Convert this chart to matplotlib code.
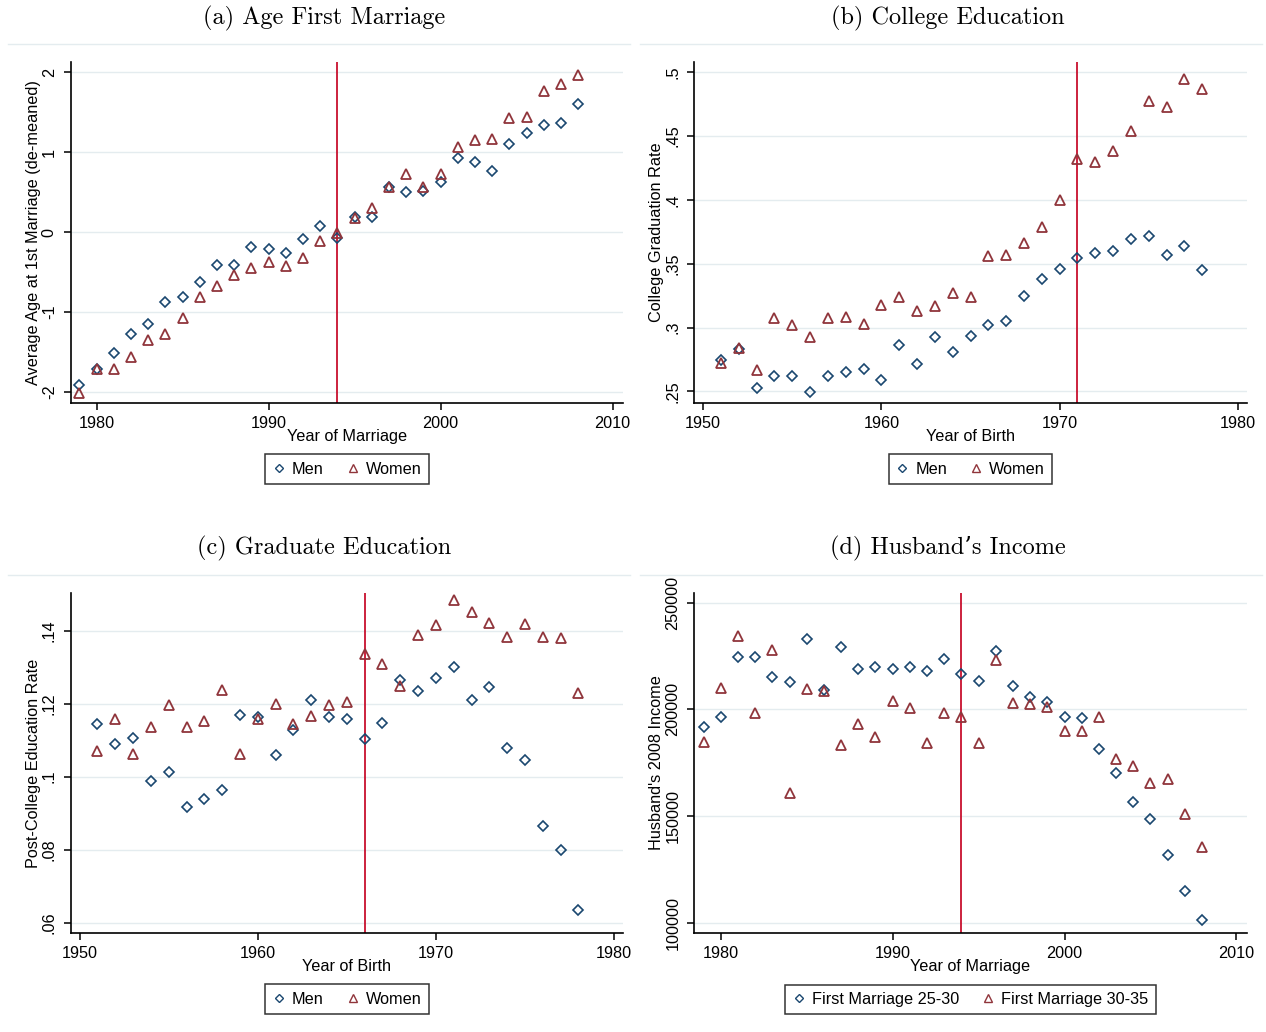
import matplotlib
matplotlib.use("Agg")
import matplotlib.pyplot as plt
from matplotlib.lines import Line2D

# ---- data -------------------------------------------------------------
marriage_years = list(range(1979, 2009))
birth_years = list(range(1951, 1979))

age_men = [-1.92, -1.72, -1.52, -1.27, -1.15, -0.88, -0.81, -0.63, -0.41, -0.41,
           -0.19, -0.21, -0.26, -0.09, 0.08, -0.08, 0.19, 0.19, 0.56, 0.50,
           0.52, 0.63, 0.93, 0.88, 0.76, 1.10, 1.24, 1.34, 1.37, 1.60]
age_women = [-2.01, -1.71, -1.72, -1.57, -1.35, -1.27, -1.07, -0.81, -0.67, -0.54,
             -0.45, -0.37, -0.43, -0.33, -0.11, -0.01, 0.18, 0.30, 0.56, 0.73,
             0.57, 0.73, 1.06, 1.15, 1.17, 1.43, 1.44, 1.77, 1.85, 1.97]

college_men = [.2748, .2832, .2529, .2623, .2623, .2495, .2623, .2654, .2675, .2592,
               .2863, .2717, .2926, .2811, .2936, .3020, .3051, .3249, .3384, .3458,
               .3541, .3583, .3603, .3697, .3718, .3572, .3635, .3447]
college_women = [.2722, .2840, .2664, .3074, .3020, .2923, .3071, .3082, .3030, .3176,
                 .3239, .3129, .3165, .3270, .3239, .3562, .3572, .3666, .3791, .4000,
                 .4323, .4297, .4381, .4542, .4777, .4730, .4944, .4871]

grad_men = [.1143, .1089, .1107, .0987, .1012, .0917, .0939, .0964, .1169, .1163,
            .1059, .1129, .1209, .1162, .1158, .1103, .1147, .1264, .1235, .1271,
            .1300, .1209, .1246, .1078, .1045, .0866, .0799, .0636]
grad_women = [.1070, .1158, .1063, .1136, .1195, .1136, .1151, .1238, .1063, .1158,
              .1198, .1143, .1165, .1195, .1204, .1336, .1309, .1249, .1387, .1414,
              .1483, .1450, .1421, .1381, .1417, .1383, .1379, .1229]

income_25_30 = [191600, 196500, 224700, 224700, 215300, 212800, 232800, 209100, 229100, 219100,
                219700, 219100, 219700, 217800, 223400, 216600, 213400, 227300, 210900, 205900,
                203400, 196500, 195900, 181500, 170300, 156600, 148400, 131600, 114700, 101400]
income_30_35 = [184500, 210100, 234400, 198100, 227800, 160800, 209500, 208400, 183400, 193300,
                187200, 203800, 200500, 184200, 198400, 196400, 184100, 223100, 202800, 202300,
                200900, 189800, 189800, 196500, 176600, 173300, 165300, 167500, 150900, 135300]

# ---- style ------------------------------------------------------------
NAVY = "#1a476f"
MAROON = "#90353b"
VLINE = "#c8102e"
GRID = "#e4ecef"
SANS = ["Liberation Sans Narrow", "Liberation Sans"]
SERIF = ["cmr10", "DejaVu Serif"]
FS = 11.7

plt.rcParams["font.family"] = SANS
plt.rcParams["axes.unicode_minus"] = False

W, H = 1266, 1032
fig = plt.figure(figsize=(W / 100, H / 100), dpi=100)


def px_axes(left, top, right, bottom):
    return fig.add_axes([left / W, 1 - bottom / H, (right - left) / W, (bottom - top) / H])


def panel(ax, x, s1, s2, title, title_xy, vline, xlim, ylim, xticks, yticks,
          yticklabels, xlabel, ylabel, labels):
    ax.plot(x, s1, linestyle="none", marker="D", markersize=5.5, mfc="none",
            mec=NAVY, mew=1.2, zorder=3)
    ax.plot(x, s2, linestyle="none", marker="^", markersize=7.5, mfc="none",
            mec=MAROON, mew=1.3, zorder=3)
    ax.axvline(vline, color=VLINE, lw=1.3, zorder=2)

    ax.set_xlim(*xlim)
    ax.set_ylim(*ylim)
    ax.set_xticks(xticks)
    ax.set_xticklabels([str(t) for t in xticks], fontsize=FS)
    ax.set_yticks(yticks)
    ax.set_yticklabels(yticklabels, fontsize=FS, rotation=90, va="center")
    ax.grid(axis="y", color=GRID, lw=1.0, zorder=0)
    ax.set_axisbelow(True)
    for side in ("top", "right"):
        ax.spines[side].set_visible(False)
    for side in ("left", "bottom"):
        ax.spines[side].set_linewidth(1.2)
    ax.tick_params(direction="out", length=5, width=1.1, color="black")
    ax.tick_params(axis="x", pad=4)
    ax.tick_params(axis="y", pad=5)

    ax.set_xlabel(xlabel, fontsize=FS, va="center")
    ax.xaxis.set_label_coords(0.5, -0.097)
    ax.set_ylabel(ylabel, fontsize=FS, va="center")
    ax.yaxis.set_label_coords(-0.068, 0.5)

    handles = [
        Line2D([], [], linestyle="none", marker="D", markersize=4.5, mfc="none", mec=NAVY, mew=1.0),
        Line2D([], [], linestyle="none", marker="^", markersize=5.5, mfc="none", mec=MAROON, mew=1.0),
    ]
    leg = ax.legend(handles, labels, loc="center", bbox_to_anchor=(0.5, -0.194), ncol=2,
                    frameon=True, fancybox=False, fontsize=FS, handlelength=0.8,
                    handletextpad=0.4, columnspacing=1.4, borderpad=0.45,
                    borderaxespad=0)
    leg.get_frame().set_edgecolor("black")
    leg.get_frame().set_linewidth(1.1)

    fig.text(title_xy[0] / W, 1 - title_xy[1] / H, title, ha="center", va="center",
             fontsize=17.5, family=SERIF)


# faint rule under each sub-graph title
for x0, y0 in [(8, 44), (640, 44), (8, 575), (640, 575)]:
    fig.add_artist(Line2D([x0 / W, (x0 + 622) / W], [1 - y0 / H, 1 - y0 / H],
                          transform=fig.transFigure, color="#e4ecef", lw=1.0))

ax_a = px_axes(70.7, 62, 623, 403)
panel(ax_a, marriage_years, age_men, age_women, "(a) Age First Marriage", (324, 18),
      1994, (1978.5, 2010.6), (-2.14, 2.13), [1980, 1990, 2000, 2010],
      [-2, -1, 0, 1, 2], ["-2", "-1", "0", "1", "2"],
      "Year of Marriage", "Average Age at 1st Marriage (de-meaned)", ["Men", "Women"])

ax_b = px_axes(694.3, 62, 1246.7, 403)
panel(ax_b, birth_years, college_men, college_women, "(b) College Education", (948, 18),
      1971, (1949.5, 1980.5), (.2409, .508), [1950, 1960, 1970, 1980],
      [.25, .3, .35, .4, .45, .5], [".25", ".3", ".35", ".4", ".45", ".5"],
      "Year of Birth", "College Graduation Rate", ["Men", "Women"])

ax_c = px_axes(70.7, 593.3, 623, 933.3)
panel(ax_c, birth_years, grad_men, grad_women, "(c) Graduate Education", (324, 548),
      1966, (1949.5, 1980.5), (.0571, .1502), [1950, 1960, 1970, 1980],
      [.06, .08, .1, .12, .14], [".06", ".08", ".1", ".12", ".14"],
      "Year of Birth", "Post-College Education Rate", ["Men", "Women"])

ax_d = px_axes(694.3, 592.7, 1246.7, 933.3)
panel(ax_d, marriage_years, income_25_30, income_30_35, "(d) Husband\u2019s Income", (948, 548),
      1994, (1978.46, 2010.6), (95030, 254690), [1980, 1990, 2000, 2010],
      [100000, 150000, 200000, 250000], ["100000", "150000", "200000", "250000"],
      "Year of Marriage", "Husband's 2008 Income",
      ["First Marriage 25-30", "First Marriage 30-35"])

fig.savefig("out.png", dpi=100)
